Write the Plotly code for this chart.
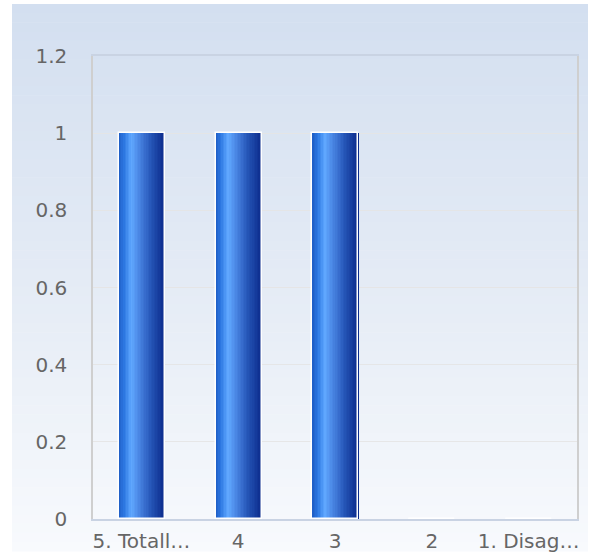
import plotly.graph_objects as go

categories = ["5. Totall…", "4", "3", "2", "1. Disag…"]
values = [1, 1, 1, 0, 0]
y_ticks = [0, 0.2, 0.4, 0.6, 0.8, 1, 1.2]
y_tick_labels = ["0", "0.2", "0.4", "0.6", "0.8", "1", "1.2"]

W, H = 598, 553
L, R, T, B = 93, 21, 56, 34
pw, ph = W - L - R, H - T - B

def lerp(c1, c2, t):
    return tuple(c1[k] + (c2[k] - c1[k]) * t for k in range(3))

def grad(stops, t):
    for (p0, c0), (p1, c1) in zip(stops, stops[1:]):
        if p0 <= t <= p1:
            return lerp(c0, c1, (t - p0) / (p1 - p0) if p1 > p0 else 0)
    return stops[-1][1]

bar_stops = [
    (0.0, (30, 92, 196)),
    (0.12, (44, 120, 226)),
    (0.28, (96, 168, 255)),
    (0.45, (74, 134, 228)),
    (0.7, (38, 86, 184)),
    (1.0, (10, 42, 138)),
]

fig = go.Figure()

bw = 0.475
N = 30
for i in range(N):
    t = (i + 0.5) / N
    c = grad(bar_stops, t)
    fig.add_trace(go.Bar(
        x=categories, y=values,
        width=bw / N * 1.15, offset=-bw / 2 + i * bw / N + 0.005,
        marker=dict(color="rgb(%d,%d,%d)" % tuple(int(round(v)) for v in c), line=dict(width=0)),
        hoverinfo="skip", showlegend=False,
    ))
fig.add_trace(go.Bar(
    x=categories, y=values, width=bw, offset=-bw / 2 + 0.005,
    marker=dict(color="rgba(0,0,0,0)", line=dict(color="white", width=1.5)),
    showlegend=False,
))

# background gradient panel
px0, px1, py0, py1 = 12, 588, 4, 551
bg_stops = [(0.0, (211, 223, 240)), (0.5, (228, 235, 245)), (1.0, (248, 250, 253))]
NB = 60
for j in range(NB):
    ya = py0 + (py1 - py0) * j / NB
    yb = py0 + (py1 - py0) * (j + 1) / NB + 0.6
    c = grad(bg_stops, (j + 0.5) / NB)
    fig.add_shape(
        type="rect", xref="paper", yref="paper", layer="below",
        x0=(px0 - L) / pw, x1=(px1 - L) / pw,
        y0=(H - B - yb) / ph, y1=(H - B - ya) / ph,
        fillcolor="rgb(%d,%d,%d)" % tuple(int(round(v)) for v in c),
        line=dict(width=0),
    )

fig.update_layout(
    width=W, height=H,
    margin=dict(l=L, r=R, t=T, b=B, pad=0, autoexpand=False),
    paper_bgcolor="white",
    plot_bgcolor="rgba(0,0,0,0)",
    barmode="overlay",
    bargap=0,
    showlegend=False,
    font=dict(family="DejaVu Sans", size=20, color="#666666"),
    xaxis=dict(
        type="category", categoryorder="array", categoryarray=categories,
        showgrid=False, showline=True, linecolor="#c9d3e3", linewidth=1.5, mirror=True,
        ticks="", ticklabelstandoff=3, zeroline=False, automargin=False,
    ),
    yaxis=dict(
        range=[0, 1.2], tickvals=y_ticks, ticktext=y_tick_labels,
        showgrid=True, gridcolor="rgba(228,228,228,0.9)", gridwidth=1,
        showline=True, linecolor="#cfcfcf", linewidth=1.5, mirror=True,
        ticks="", ticklabelstandoff=20, zeroline=False, automargin=False,
    ),
)

fig.write_html(
    "out.html",
    config={"displayModeBar": False},
    post_script="document.body.style.margin='0';document.body.style.overflow='hidden';",
)
